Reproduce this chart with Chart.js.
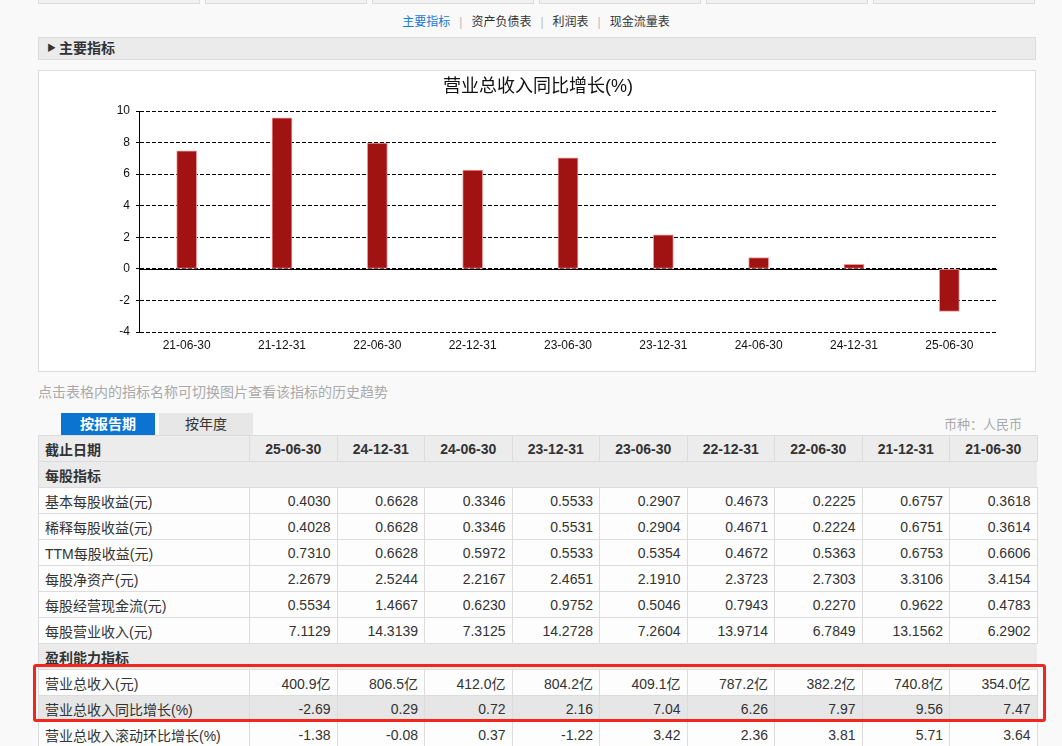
<!DOCTYPE html>
<html>
<head>
<meta charset="utf-8">
<script src="https://cdn.jsdelivr.net/npm/chart.js@4.4.1/dist/chart.umd.min.js"></script>
<style>
  html, body { margin: 0; padding: 0; }
  body {
    width: 1062px; height: 746px; overflow: hidden; position: relative;
    background: #f9f9f9; color: #333;
    font-family: "Liberation Sans", "Noto Sans CJK SC", sans-serif; font-size: 13px;
  }
  .topTabs div {
    position: absolute; top: -2px; height: 6px; width: 162px;
    background: #f1f1f1; border: 1px solid #dcdcdc; box-sizing: border-box;
  }
  .subnav { position: absolute; top: 12px; left: 0; width: 1072px; text-align: center; font-size: 12px; color: #333; }
  .subnav a { color: #333; text-decoration: none; }
  .subnav a.on { color: #1a7ad4; }
  .subnav .sep { color: #bbb; margin: 0 9px; }
  .bar {
    position: absolute; left: 38px; top: 37px; width: 998px; height: 23px; box-sizing: border-box;
    background: #ebebeb; border: 1px solid #dcdcdc; font-weight: bold; font-size: 14px; line-height: 21px;
  }
  .bar .tri { position: absolute; left: 8px; top: 0; font-size: 9px; color: #333; }
  .bar .txt { position: absolute; left: 20px; top: 0; }
  .chartBox {
    position: absolute; left: 38px; top: 70px; width: 998px; height: 302px; box-sizing: border-box;
    background: #fff; border: 1px solid #dcdcdc;
  }
  .hint { position: absolute; left: 38px; top: 381px; color: #aaa; font-size: 14px; }
  .currency { position: absolute; right: 40px; top: 414px; color: #aaa; font-size: 13px; }
  .tab { position: absolute; top: 413px; height: 22px; width: 94px; text-align: center; line-height: 22px; font-size: 14px; }
  .tab.on { left: 61px; background: #0a74d0; color: #fff; font-weight: bold; }
  .tab.off { left: 159px; background: #e7e7e7; color: #333; }
  table {
    position: absolute; left: 38px; top: 435px; width: 999px;
    border-collapse: collapse; table-layout: fixed;
  }
  td, th { border: 1px solid #dcdcdc; height: 25px; padding: 0 6px; font-size: 14px; white-space: nowrap; }
  th { background: #ececec; font-weight: bold; text-align: center; }
  th.first { text-align: left; }
  td { background: #fdfdfd; text-align: right; }
  td.name { text-align: left; }
  tr.sec td { background: #ebebeb; font-weight: bold; text-align: left; border-left: none; border-right: none; }
  tr.sec td:first-child { border-left: 1px solid #dcdcdc; }
  tr.hl td { background: #e6e6e6; }
  .redBox {
    position: absolute; left: 33px; top: 664px; width: 1013px; height: 58px; box-sizing: border-box;
    border: 3px solid #f2261d; border-radius: 3px;
  }
</style>
</head>
<body>
<div class="topTabs">
  <div style="left:38px"></div><div style="left:205px"></div><div style="left:372px"></div>
  <div style="left:539px"></div><div style="left:706px"></div><div style="left:873px"></div>
</div>
<div class="subnav">
  <a class="on">主要指标</a><span class="sep">|</span><a>资产负债表</a><span class="sep">|</span><a>利润表</a><span class="sep">|</span><a>现金流量表</a>
</div>
<div class="bar"><span class="tri">&#9654;</span><span class="txt">主要指标</span></div>
<div class="chartBox"><canvas id="myChart" width="996" height="300"></canvas></div>
<div class="hint">点击表格内的指标名称可切换图片查看该指标的历史趋势</div>
<div class="tab on">按报告期</div>
<div class="tab off">按年度</div>
<div class="currency">币种：人民币</div>
<table id="tbl"></table>
<div class="redBox"></div>

<script>
// chart data (oldest first, as on the x axis)
const periods = ["21-06-30", "21-12-31", "22-06-30", "22-12-31", "23-06-30", "23-12-31", "24-06-30", "24-12-31", "25-06-30"];
const yoyGrowth = [7.47, 9.56, 7.97, 6.26, 7.04, 2.16, 0.72, 0.29, -2.69];
const yMin = -4;
const yMax = 10;
const yStep = 2;

// table data (newest first)
const tableDates = periods.slice().reverse();
const basicEps = ["0.4030", "0.6628", "0.3346", "0.5533", "0.2907", "0.4673", "0.2225", "0.6757", "0.3618"];
const dilutedEps = ["0.4028", "0.6628", "0.3346", "0.5531", "0.2904", "0.4671", "0.2224", "0.6751", "0.3614"];
const ttmEps = ["0.7310", "0.6628", "0.5972", "0.5533", "0.5354", "0.4672", "0.5363", "0.6753", "0.6606"];
const navPerShare = ["2.2679", "2.5244", "2.2167", "2.4651", "2.1910", "2.3723", "2.7303", "3.3106", "3.4154"];
const cashPerShare = ["0.5534", "1.4667", "0.6230", "0.9752", "0.5046", "0.7943", "0.2270", "0.9622", "0.4783"];
const revPerShare = ["7.1129", "14.3139", "7.3125", "14.2728", "7.2604", "13.9714", "6.7849", "13.1562", "6.2902"];
const totalRevenue = ["400.9亿", "806.5亿", "412.0亿", "804.2亿", "409.1亿", "787.2亿", "382.2亿", "740.8亿", "354.0亿"];
const rollingGrowth = ["-1.38", "-0.08", "0.37", "-1.22", "3.42", "2.36", "3.81", "5.71", "3.64"];

// build table
let html = '<colgroup><col style="width:211px">';
tableDates.forEach(() => { html += '<col style="width:87.5px">'; });
html += '</colgroup>';
html += '<tr><th class="first">截止日期</th>' + tableDates.map(d => '<th>' + d + '</th>').join('') + '</tr>';
function section(name) {
  return '<tr class="sec"><td>' + name + '</td>' + tableDates.map(() => '<td></td>').join('') + '</tr>';
}
function row(name, vals, cls) {
  return '<tr' + (cls ? ' class="' + cls + '"' : '') + '><td class="name">' + name + '</td>' +
    vals.map(v => '<td>' + v + '</td>').join('') + '</tr>';
}
html += section('每股指标');
html += row('基本每股收益(元)', basicEps);
html += row('稀释每股收益(元)', dilutedEps);
html += row('TTM每股收益(元)', ttmEps);
html += row('每股净资产(元)', navPerShare);
html += row('每股经营现金流(元)', cashPerShare);
html += row('每股营业收入(元)', revPerShare);
html += section('盈利能力指标');
html += row('营业总收入(元)', totalRevenue);
html += row('营业总收入同比增长(%)', yoyGrowth.slice().reverse().map(v => v.toFixed(2)), 'hl');
html += row('营业总收入滚动环比增长(%)', rollingGrowth);
document.getElementById('tbl').innerHTML = html;

// solid line at zero
const zeroLine = {
  id: 'zeroLine',
  beforeDatasetsDraw(chart) {
    const y = Math.round(chart.scales.y.getPixelForValue(0)) + 0.5;
    const ctx = chart.ctx;
    ctx.save();
    ctx.strokeStyle = '#000';
    ctx.lineWidth = 1;
    ctx.beginPath();
    ctx.moveTo(chart.chartArea.left, y);
    ctx.lineTo(chart.chartArea.right, y);
    ctx.stroke();
    ctx.restore();
  }
};

const ctx = document.getElementById('myChart').getContext('2d');
const myChart = new Chart(ctx, {
  type: 'bar',
  data: {
    labels: periods,
    datasets: [{
      label: '营业总收入同比增长(%)',
      data: yoyGrowth,
      backgroundColor: '#a11313',
      borderColor: 'rgba(235,140,140,0.9)',
      borderWidth: 1,
      borderSkipped: false,
      barThickness: 20
    }]
  },
  options: {
    responsive: false,
    animation: false,
    layout: { padding: { left: 40, right: 38, top: 0, bottom: 0 } },
    plugins: {
      legend: { display: false },
      tooltip: { enabled: false },
      title: {
        display: true,
        text: '营业总收入同比增长(%)',
        color: '#111',
        font: { size: 18, weight: 'normal', family: '"Liberation Sans", "Noto Sans CJK SC", sans-serif' },
        padding: { top: 5, bottom: 13.4 }
      }
    },
    scales: {
      x: {
        grid: { display: false, drawTicks: false },
        border: { display: false },
        ticks: { color: '#111', padding: 6, maxRotation: 0, font: { size: 12, family: '"Liberation Sans", sans-serif' } },
        afterFit: function (s) { s.height = 39; }
      },
      y: {
        min: yMin,
        max: yMax,
        grid: { color: '#000', lineWidth: 1, tickLength: 3, drawTicks: true },
        border: { display: true, color: '#000', width: 1, dash: [4, 2] },
        ticks: { stepSize: yStep, color: '#111', padding: 6, font: { size: 12, family: '"Liberation Sans", sans-serif' } },
        afterFit: function (s) { s.width = 60; }
      }
    }
  },
  plugins: [zeroLine]
});
</script>
</body>
</html>
